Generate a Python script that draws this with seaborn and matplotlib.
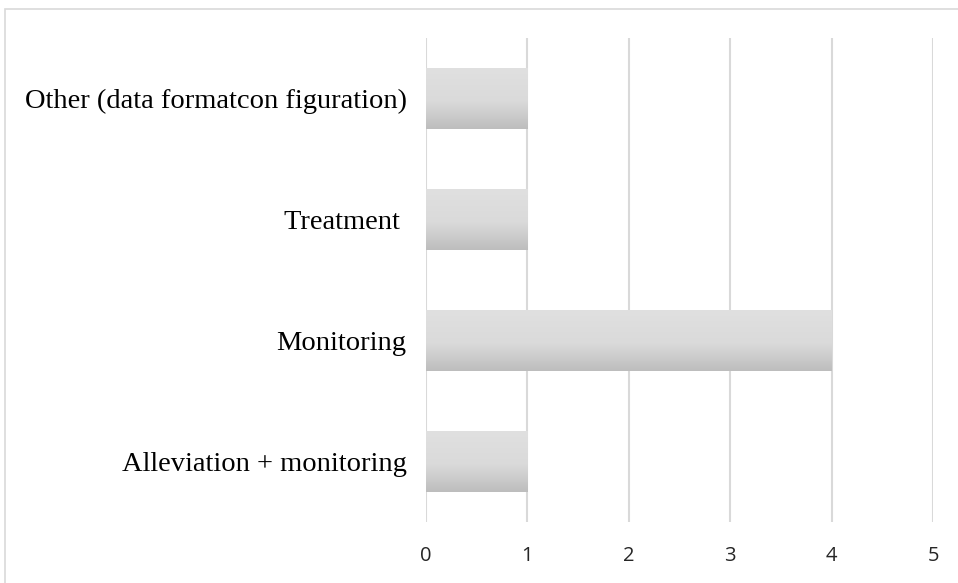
import numpy as np
import pandas as pd
import matplotlib
matplotlib.use("Agg")
import matplotlib.pyplot as plt
from matplotlib.colors import LinearSegmentedColormap
from matplotlib.patches import Rectangle
import seaborn as sns

# Data
categories = ["Other (data formatcon figuration)", "Treatment ", "Monitoring", "Alleviation + monitoring"]
counts = [1, 1, 4, 1]
x_ticks = [0, 1, 2, 3, 4, 5]

df = pd.DataFrame({"category": categories, "count": counts})

sns.set_style("white")

fig = plt.figure(figsize=(9.58, 5.83), dpi=100)
ax = fig.add_axes([0.4447, 0.1046, 0.974 - 0.4447, 0.9348 - 0.1046])

sns.barplot(data=df, x="count", y="category", orient="h", color="#d9d9d9",
            width=0.5, ax=ax, zorder=2)

# gradient fill clipped to each bar
grad = LinearSegmentedColormap.from_list("g", [(0, "#e0e0e0"), (0.55, "#dadada"), (1, "#bdbdbd")])
img = np.linspace(0, 1, 256).reshape(-1, 1)
for bar in ax.patches:
    x0, y0 = bar.get_x(), bar.get_y()
    w, h = bar.get_width(), bar.get_height()
    im = ax.imshow(img, cmap=grad, aspect="auto", extent=[x0, x0 + w, y0 + h, y0],
                   origin="upper", zorder=3)
    im.set_clip_path(bar)
    bar.set_edgecolor("none")

ax.set_xlim(0, 5)
ax.set_ylim(3.5, -0.5)
ax.set_xticks(x_ticks)
ax.set_xlabel("")
ax.set_ylabel("")
ax.xaxis.grid(True, color="#d9d9d9", linewidth=1.5, zorder=0)
ax.set_axisbelow(True)
for s in ax.spines.values():
    s.set_visible(False)
ax.tick_params(axis="both", length=0)
ax.tick_params(axis="x", pad=17)
ax.tick_params(axis="y", pad=14)

for lbl in ax.get_xticklabels():
    lbl.set_fontfamily(["Open Sans", "DejaVu Sans"])
    lbl.set_fontsize(14.5)
    lbl.set_color("#262626")
for lbl in ax.get_yticklabels():
    lbl.set_fontfamily(["Liberation Serif", "DejaVu Serif"])
    lbl.set_fontsize(20.5)
    lbl.set_color("#000000")

# chart area border
fig.patches.append(Rectangle((5 / 958, -0.05), 1.0, 1 - 9 / 583 + 0.05, transform=fig.transFigure,
                             fill=False, edgecolor="#d9d9d9", linewidth=1.2))

fig.savefig("out.png", dpi=100)
